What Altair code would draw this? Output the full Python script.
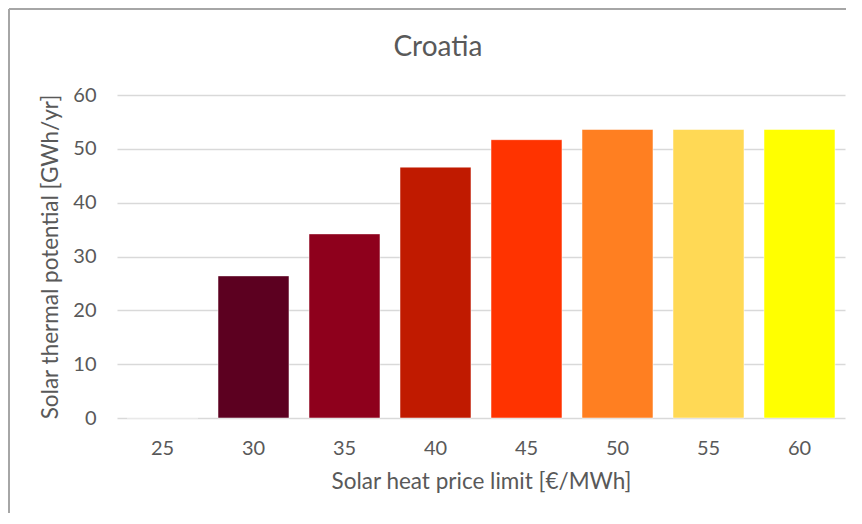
import altair as alt
import pandas as pd

prices = ["25", "30", "35", "40", "45", "50", "55", "60"]
potential = [0, 26.4, 34.2, 46.6, 51.7, 53.6, 53.6, 53.6]
colors = ["#5C0020", "#5C0020", "#8E001C", "#C01A00", "#FF3300", "#FF7F21", "#FFD955", "#FFFF00"]
title_text = "Croatia"

df = pd.DataFrame({"price": prices, "potential": potential, "color": colors})

W, H = 728, 323
PL, PT, PR, PB = 109, 87, 1, 95

text_color = "#595959"
font = "Lato"

bars = alt.Chart(df).mark_bar(strokeWidth=0.5, stroke="#ffffff").encode(
    x=alt.X("price:N", sort=prices,
            scale=alt.Scale(paddingInner=0.22, paddingOuter=0.11),
            axis=alt.Axis(title="Solar heat price limit [€/MWh]", labelAngle=0,
                          ticks=False, domain=False, labelPadding=20,
                          titlePadding=12, grid=False)),
    y=alt.Y("potential:Q", scale=alt.Scale(domain=[0, 60], nice=False),
            axis=alt.Axis(title="Solar thermal potential [GWh/yr]", values=[0, 10, 20, 30, 40, 50, 60],
                          ticks=False, domain=False, labelPadding=21, titlePadding=10,
                          grid=True, gridColor="#d9d9d9", gridWidth=1.5)),
    color=alt.Color("color:N", scale=None, legend=None),
)

border_top = alt.Chart().mark_rule(color="#a6a6a6", strokeWidth=2).encode(
    x=alt.value(-PL + 1), x2=alt.value(W + PR), y=alt.value(-PT + 1)
)
border_left = alt.Chart().mark_rule(color="#a6a6a6", strokeWidth=2).encode(
    x=alt.value(-PL + 1), y=alt.value(-PT + 1), y2=alt.value(H + PB)
)
title = alt.Chart().mark_text(
    text=title_text, font=font, fontSize=28, color=text_color,
    align="center", baseline="alphabetic"
).encode(x=alt.value(321), y=alt.value(-39))

chart = alt.layer(bars, border_top, border_left, title).properties(
    width=W, height=H,
    padding={"left": PL, "top": PT, "right": PR, "bottom": PB},
    autosize=alt.AutoSizeParams(type="none"),
).configure_axis(
    labelFont=font, titleFont=font, labelColor=text_color, titleColor=text_color,
    labelFontSize=20, titleFontSize=22.5, titleFontWeight="normal",
).configure_view(stroke=None)

chart.save("out.html", embed_options={"renderer": "svg", "actions": False})
